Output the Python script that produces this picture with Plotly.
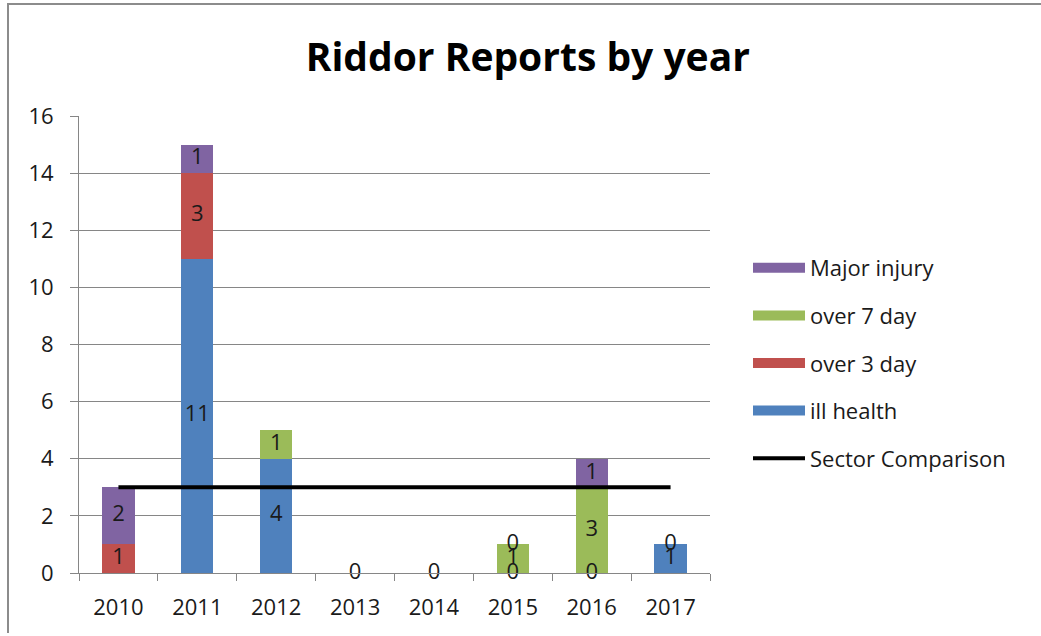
import plotly.graph_objects as go

years = ["2010", "2011", "2012", "2013", "2014", "2015", "2016", "2017"]
ill_health = [None, 11, 4, 0, 0, 0, 0, 1]
over_3_day = [1, 3, None, None, None, None, None, None]
over_7_day = [None, None, 1, None, None, 1, 3, 0]
major_injury = [2, 1, None, None, None, 0, 1, None]
sector_comparison = [3, 3, 3, 3, 3, 3, 3, 3]

series = [
    ("ill health", ill_health, "#4F81BD", 4),
    ("over 3 day", over_3_day, "#C0504D", 3),
    ("over 7 day", over_7_day, "#9BBB59", 2),
    ("Major injury", major_injury, "#8064A2", 1),
]

FONT = "Open Sans"
TXT = "#1a1a1a"
fig = go.Figure()

base = [0.0] * len(years)
lab_x, lab_y, lab_t = [], [], []
for name, vals, color, rank in series:
    fig.add_trace(go.Bar(
        x=years, y=[v if v is not None else 0 for v in vals], name=name,
        marker=dict(color=color, line=dict(width=0)),
        legendgroup=name, showlegend=False,
        hoverinfo="skip",
    ))
    # legend swatch (wide rectangle like the reference)
    fig.add_trace(go.Scatter(
        x=[None], y=[None], mode="lines", name=name,
        line=dict(color=color, width=15),
        legendgroup=name, legendrank=rank, showlegend=True,
    ))
    for i, v in enumerate(vals):
        if v is None:
            continue
        lab_x.append(years[i])
        lab_y.append(base[i] + v / 2.0)
        lab_t.append(str(v))
        base[i] += v

fig.add_trace(go.Scatter(
    x=years, y=sector_comparison, mode="lines", name="Sector Comparison",
    line=dict(color="black", width=4), legendrank=5, legendgroup="sector",
))

fig.add_trace(go.Scatter(
    x=lab_x, y=lab_y, text=lab_t, mode="text", showlegend=False, cliponaxis=False,
    textfont=dict(family=FONT, size=22, color=TXT), hoverinfo="skip",
))

fig.update_layout(
    width=1041, height=636,
    barmode="stack", bargap=0.59,
    paper_bgcolor="white", plot_bgcolor="white",
    margin=dict(l=79, r=331, t=116, b=63),
    title=dict(text="<b>Riddor Reports by year</b>", x=0.507, xanchor="center",
               y=1 - 57 / 636, yanchor="middle", yref="container",
               font=dict(family=FONT, size=39, color="black")),
    font=dict(family=FONT, size=22, color=TXT),
    legend=dict(x=(748 - 79) / 631, xanchor="left", y=(573 - 363) / 457, yanchor="middle",
                traceorder="grouped", tracegroupgap=16,
                font=dict(family=FONT, size=22, color=TXT),
                itemwidth=52, bgcolor="rgba(0,0,0,0)"),
    showlegend=True,
)

fig.update_xaxes(
    type="category", showgrid=False, showline=True, linecolor="#868686", linewidth=1,
    ticks="outside", tickson="boundaries", ticklen=7, tickcolor="#868686",
    ticklabelstandoff=15,
    tickfont=dict(family=FONT, size=22, color=TXT),
)
fig.update_yaxes(
    range=[0, 16], dtick=2, showgrid=True, gridcolor="#868686", gridwidth=1,
    showline=True, linecolor="#868686", linewidth=1, zeroline=False,
    ticks="outside", ticklen=8, tickcolor="#868686",
    ticklabelstandoff=12,
    tickfont=dict(family=FONT, size=22, color=TXT),
)

# chart frame (top and left edges)
fig.add_shape(type="line", xref="paper", yref="paper",
              x0=-72 / 631, x1=(1041 - 79) / 631, y0=1 + 112 / 457, y1=1 + 112 / 457,
              line=dict(color="#8c8c8c", width=2))
fig.add_shape(type="line", xref="paper", yref="paper",
              x0=-71 / 631, x1=-71 / 631, y0=1 + 112 / 457, y1=-60 / 457,
              line=dict(color="#8c8c8c", width=2))

fig.write_html("out.html")
